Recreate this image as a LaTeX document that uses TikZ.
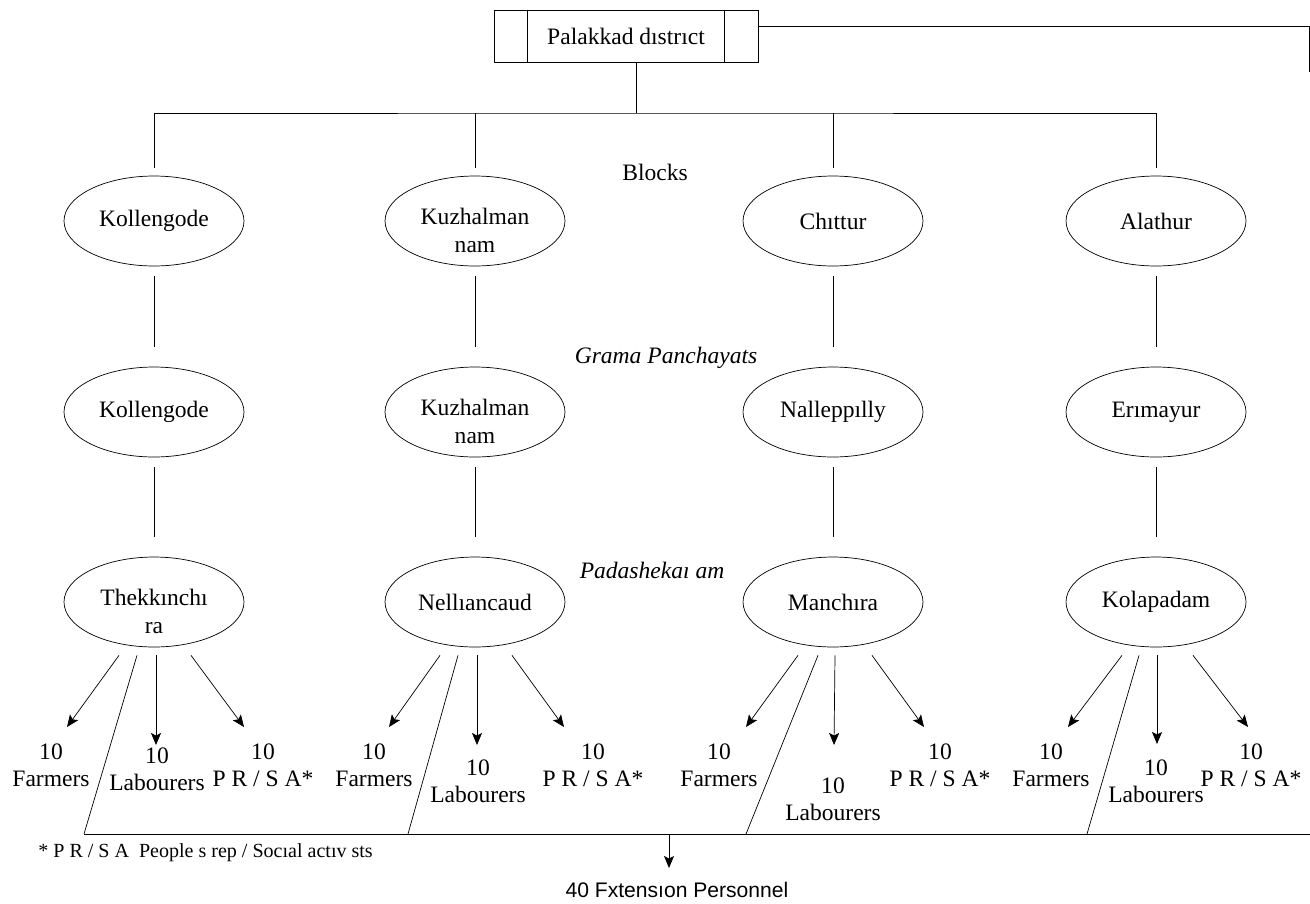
\documentclass[tikz,border=0pt]{standalone}
\usepackage{fontspec}
\setmainfont{Liberation Serif}
\newfontfamily\arialfont{Liberation Sans}
\usetikzlibrary{arrows.meta}
\usetikzlibrary{shapes.geometric}
\tikzset{
  line width = 0.9pt,
  >={Stealth[length=0.24cm, width=0.2cm, inset=0.05cm]},
  unit/.style = {ellipse, draw, minimum width=3.6cm, minimum height=1.8cm,
    inner sep=0pt, align=center, font=\fontsize{13.4}{16}\selectfont},
  pair/.style = {unit, text height=36pt},
  head/.style = {rectangle, draw, minimum width=5.28cm, minimum height=1.04cm,
    font=\fontsize{13.4}{16}\selectfont},
  level/.style = {font=\fontsize{13.4}{16}\selectfont},
  levelit/.style = {font=\fontsize{13.4}{16}\selectfont\itshape},
  count/.style = {align=center, inner sep=0pt, font=\fontsize{13.4}{15.5}\selectfont},
  link/.style = {shorten <=0.2cm, shorten >=0.4cm},
}

\begin{document}
\begin{tikzpicture}[x=0.02cm, y=-0.02cm]
    \useasboundingbox (0,0) rectangle (1310,903);
    % district
    \node [head] (dist) at (626,36) {Palakkad dıstrıct};
    \draw ([xshift=0.68cm]dist.north west) -- ([xshift=0.68cm]dist.south west);
    \draw ([xshift=-0.68cm]dist.north east) -- ([xshift=-0.68cm]dist.south east);
    \coordinate (hub) at (636,113);
    \coordinate (rim) at (1309,26);
    \coordinate (rimend) at (1309,72);
    \draw (dist.east |- rim) -- (rim) -- (rimend);
    % blocks
    \node [level] (blk) at (655,172) {Blocks};
    \node [unit] (b1) at (154,221) {Kollengode};
    \node [pair] (b2) at (475,221) {Kuzhalman\\nam};
    \node [unit] (b3) at (833,221) {Chıttur};
    \node [unit] (b4) at (1156,221) {Alathur};
    \draw (hub |- dist.south) -- (hub);
    \draw ([yshift=0.16cm]b1.north) |- (hub) -| ([yshift=0.16cm]b4.north);
    \draw (b2.north |- hub) -- ([yshift=0.16cm]b2.north);
    \draw (b3.north |- hub) -- ([yshift=0.16cm]b3.north);
    % grama panchayats
    \node [levelit] (gp) at (666,358) {Grama Panchayats};
    \node [unit] (g1) at (154,412) {Kollengode};
    \node [pair] (g2) at (475,412) {Kuzhalman\\nam};
    \node [unit] (g3) at (833,412) {Nalleppılly};
    \node [unit] (g4) at (1156,412) {Erımayur};
    \draw [link] (b1) -- (g1);
    \draw [link] (b2) -- (g2);
    \draw [link] (b3) -- (g3);
    \draw [link] (b4) -- (g4);
    % padashekarams
    \node [levelit] (pad) at (652,570) {Padashekaı am};
    \node [pair] (pd1) at (154,602) {Thekkınchı\\ra};
    \node [unit] (pd2) at (475,602) {Nellıancaud};
    \node [unit] (pd3) at (833,602) {Manchıra};
    \node [unit] (pd4) at (1156,602) {Kolapadam};
    \draw [link] (g1) -- (pd1);
    \draw [link] (g2) -- (pd2);
    \draw [link] (g3) -- (pd3);
    \draw [link] (g4) -- (pd4);
    % members
    \node [count] (f1) at (51,765) {10\\Farmers};
    \node [count] (l1) at (157,769) {10\\Labourers};
    \node [count] (r1) at (263,765) {10\\P R / S A*};
    \node [count] (f2) at (374,765) {10\\Farmers};
    \node [count] (l2) at (478,781) {10\\Labourers};
    \node [count] (r2) at (593,765) {10\\P R / S A*};
    \node [count] (f3) at (719,765) {10\\Farmers};
    \node [count] (l3) at (833,799) {10\\Labourers};
    \node [count] (r3) at (940,765) {10\\P R / S A*};
    \node [count] (f4) at (1051,765) {10\\Farmers};
    \node [count] (l4) at (1156,781) {10\\Labourers};
    \node [count] (r4) at (1251,765) {10\\P R / S A*};
    \draw [->] ([shift={(-35,8)}]pd1.south) -- ([shift={(16,-38)}]f1.center);
    \draw [->] ([shift={(2,8)}]pd1.south) -- ([shift={(-1,-24)}]l1.center);
    \draw [->] ([shift={(37,8)}]pd1.south) -- ([shift={(-19,-38)}]r1.center);
    \draw [->] ([shift={(-35,8)}]pd2.south) -- ([shift={(15,-38)}]f2.center);
    \draw [->] ([shift={(2,8)}]pd2.south) -- ([shift={(-1,-36)}]l2.center);
    \draw [->] ([shift={(37,8)}]pd2.south) -- ([shift={(-29,-38)}]r2.center);
    \draw [->] ([shift={(-35,8)}]pd3.south) -- ([shift={(27,-38)}]f3.center);
    \draw [->] ([shift={(2,8)}]pd3.south) -- ([shift={(1,-54)}]l3.center);
    \draw [->] ([shift={(39,8)}]pd3.south) -- ([shift={(-16,-38)}]r3.center);
    \draw [->] ([shift={(-34,8)}]pd4.south) -- ([shift={(17,-38)}]f4.center);
    \draw [->] ([shift={(1,8)}]pd4.south) -- ([shift={(1,-37)}]l4.center);
    \draw [->] ([shift={(37,8)}]pd4.south) -- ([shift={(-3,-38)}]r4.center);
    % extension personnel
    \coordinate (s1) at (84,834);
    \coordinate (s2) at (408,834);
    \coordinate (s3) at (746,834);
    \coordinate (s4) at (1087,834);
    \coordinate (baseend) at (1310,834);
    \coordinate (drop) at (669,834);
    \draw ([shift={(-17,8)}]pd1.south) -- (s1);
    \draw ([shift={(-17,8)}]pd2.south) -- (s2);
    \draw ([shift={(-15,8)}]pd3.south) -- (s3);
    \draw ([shift={(-17,8)}]pd4.south) -- (s4);
    \draw (s1) -- (baseend);
    \node [anchor=north, inner sep=0pt, font=\arialfont\fontsize{12}{14}\selectfont]
      (ext) at (677,882) {40 Fxtensıon Personnel};
    \draw [->, shorten >=0.28cm] (drop) -- (drop |- ext.north);
    \node [anchor=west, inner sep=0pt, font=\fontsize{11.4}{13}\selectfont]
      (note) at (38,853) {* P R / S A\ \ People s rep / Socıal actıv sts};
\end{tikzpicture}
\end{document}
